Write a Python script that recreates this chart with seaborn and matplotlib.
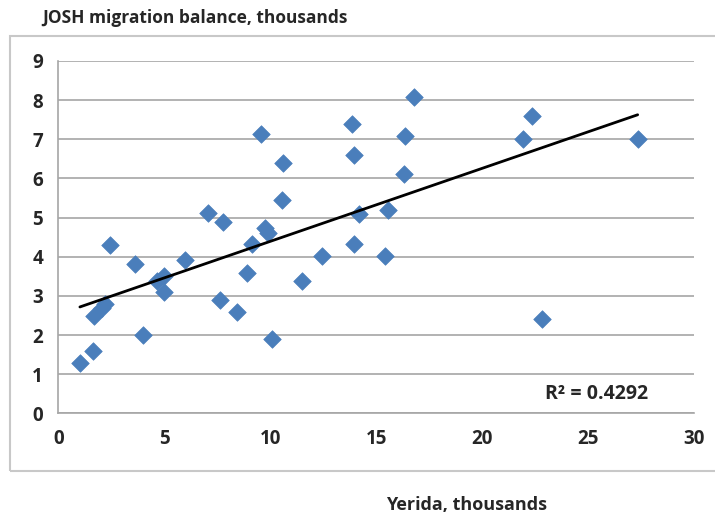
import numpy as np
import pandas as pd
import matplotlib
matplotlib.use("Agg")
import matplotlib.pyplot as plt
import seaborn as sns
from matplotlib.patches import Rectangle

# Yerida (x) vs JOSH migration balance (y), thousands
yerida = [1.02, 1.65, 1.70, 2.05, 2.20, 2.44, 3.61, 4.01, 4.64, 4.98, 4.98, 6.00,
          7.07, 7.75, 7.65, 8.44, 8.91, 9.14, 9.58, 9.77, 9.87, 10.06, 10.56, 10.60,
          11.52, 12.46, 13.87, 13.95, 13.95, 14.19, 15.43, 15.55, 16.29, 16.34, 16.76,
          21.91, 22.34, 22.83, 27.33]
josh = [1.29, 1.60, 2.48, 2.70, 2.78, 4.30, 3.82, 1.99, 3.37, 3.52, 3.09, 3.92,
        5.11, 4.88, 2.90, 2.60, 3.58, 4.32, 7.13, 4.73, 4.60, 1.90, 5.45, 6.40,
        3.39, 4.03, 7.40, 6.60, 4.32, 5.09, 4.01, 5.18, 6.10, 7.09, 8.08,
        7.01, 7.60, 2.41, 7.01]
r2_label = "R\u00b2 = 0.4292"

df = pd.DataFrame({"yerida": yerida, "josh": josh})

sns.set_style("white")
plt.rcParams['font.family'] = ['Open Sans', 'DejaVu Sans']

fig = plt.figure(figsize=(7.15, 5.2), dpi=100)
ax = fig.add_axes([0.0815, 0.205, 0.8895, 0.678])

# chart area border
fig.patches.append(Rectangle((10 / 715, 1 - 471 / 520), 1.0, 435 / 520,
                             transform=fig.transFigure, fill=False,
                             edgecolor="#c8c8c8", linewidth=1.5))

sns.scatterplot(data=df, x="yerida", y="josh", marker="D", s=80,
                color="#4a7ebb", edgecolor="#4a7ebb", linewidth=0.5, ax=ax, zorder=3)

# linear trend line
coef = np.polyfit(df["yerida"], df["josh"], 1)
xs = np.array([df["yerida"].min(), df["yerida"].max()])
ax.plot(xs, np.polyval(coef, xs), color="black", linewidth=2, zorder=4)

ax.set_xlim(0, 30)
ax.set_ylim(0, 9)
ax.set_xticks(range(0, 31, 5))
ax.set_yticks(range(0, 10))
ax.yaxis.grid(True, color="#a6a6a6", linewidth=1.2)
ax.set_axisbelow(True)
for side in ["top", "right"]:
    ax.spines[side].set_visible(False)
for side in ["left", "bottom"]:
    ax.spines[side].set_color("#a6a6a6")
    ax.spines[side].set_linewidth(1.2)
ax.tick_params(axis="both", direction="out", length=5, width=1.2, color="#a6a6a6",
               labelsize=13.5, pad=6)
for lbl in ax.get_xticklabels() + ax.get_yticklabels():
    lbl.set_fontweight("bold")
ax.set_xlabel("")
ax.set_ylabel("")

ax.text(25.4, 0.5, r2_label, fontsize=14, fontweight="bold", ha="center", va="center")

fig.text(42 / 715, 1 - 18 / 520, "JOSH migration balance, thousands",
         fontsize=12.5, fontweight="bold", ha="left", va="center")
fig.text(467 / 715, 1 - 505 / 520, "Yerida, thousands",
         fontsize=13, fontweight="bold", ha="center", va="center")

fig.savefig("out.png", dpi=100)
